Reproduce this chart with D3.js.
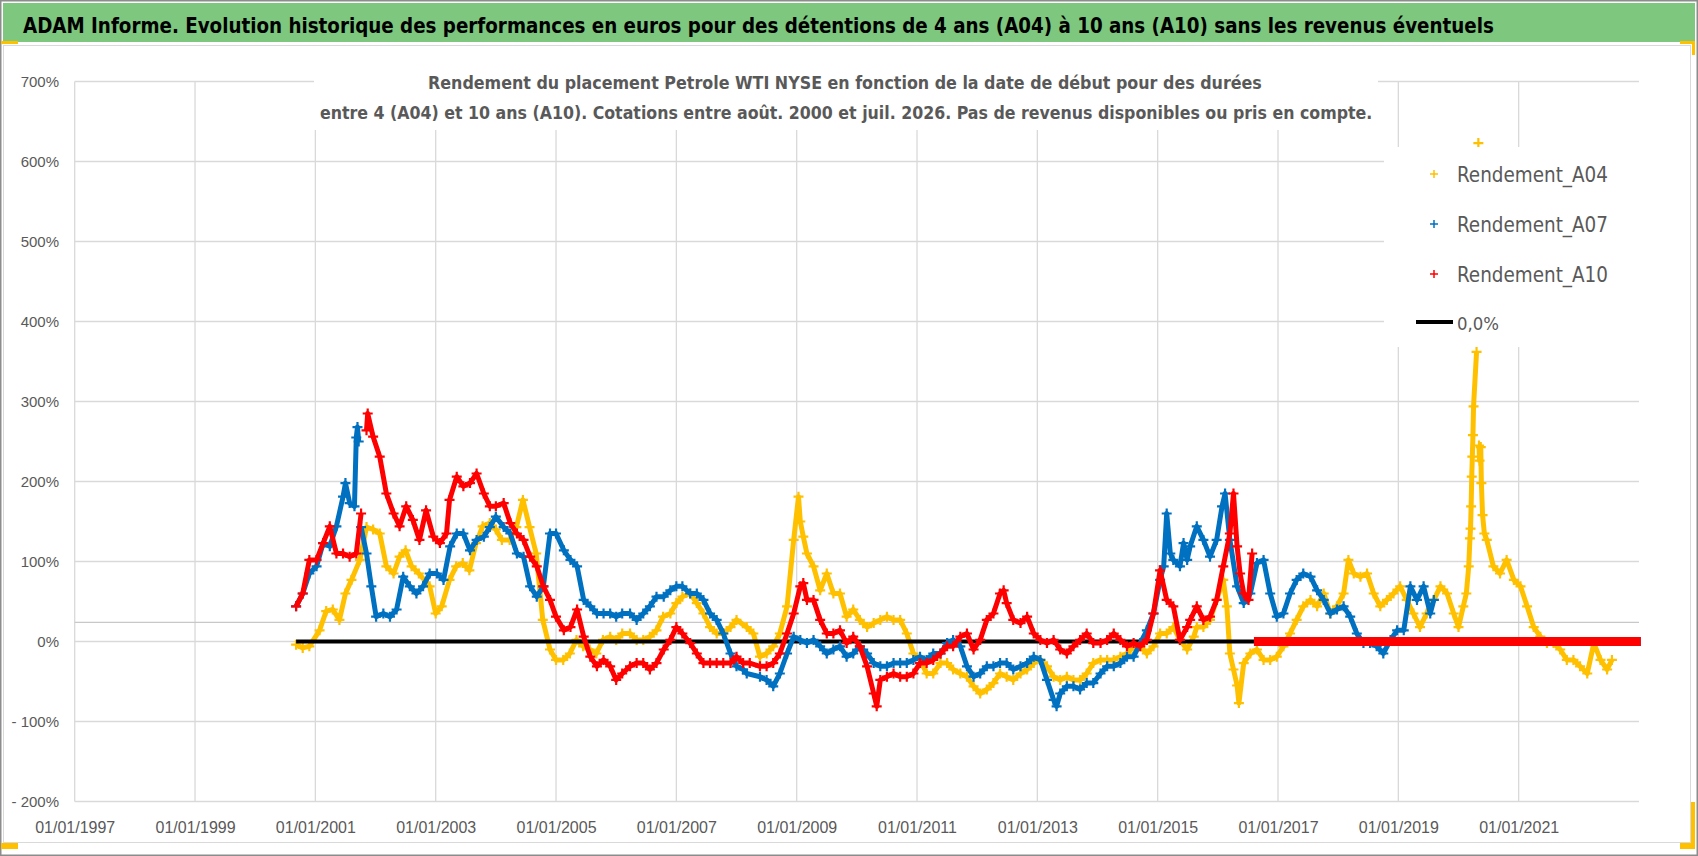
<!DOCTYPE html>
<html>
<head>
<meta charset="UTF-8">
<title>ADAM Informe - Petrole WTI NYSE</title>
<script src="https://cdn.jsdelivr.net/npm/d3@7/dist/d3.min.js"></script>
<style>
  body { margin: 0; background: #fff; }
  text { font-family: "Liberation Sans", Arial, sans-serif; }
  .narrow { font-family: "Liberation Sans Narrow", "DejaVu Sans Condensed", "Liberation Sans", sans-serif; }
</style>
</head>
<body>
<script>

// ---- data: [start date (decimal year), return %] ----
var a04 = [[2000.68,-4],[2000.79,-8],[2000.9,-6],[2001.07,14],[2001.18,38],[2001.29,40],[2001.4,27],[2001.5,60],[2001.6,77],[2001.74,102],[2001.85,143],[2001.96,140],[2002.07,135],[2002.18,94],[2002.3,85],[2002.4,106],[2002.5,114],[2002.6,94],[2002.72,85],[2002.9,69],[2003.0,35],[2003.1,44],[2003.23,77],[2003.34,94],[2003.45,98],[2003.56,89],[2003.67,123],[2003.78,144],[2003.9,148],[2004.0,140],[2004.1,127],[2004.23,127],[2004.34,143],[2004.45,177],[2004.56,143],[2004.67,110],[2004.78,27],[2004.9,-10],[2005.0,-23],[2005.12,-23],[2005.23,-15],[2005.34,2],[2005.45,-6],[2005.56,-10],[2005.67,-15],[2005.78,2],[2005.9,6],[2006.0,2],[2006.1,10],[2006.23,10],[2006.34,2],[2006.45,2],[2006.56,6],[2006.67,14],[2006.78,31],[2006.9,35],[2007.0,48],[2007.1,56],[2007.23,60],[2007.34,48],[2007.45,35],[2007.56,18],[2007.67,10],[2007.78,10],[2007.9,18],[2008.0,27],
  [2008.17,18],[2008.28,10],[2008.39,-19],[2008.5,-15],[2008.61,-6],[2008.72,10],[2008.84,44],[2008.95,127],[2009.03,181],[2009.06,150],[2009.11,131],[2009.17,110],[2009.28,94],[2009.39,64],[2009.5,85],[2009.61,60],[2009.72,60],[2009.83,31],[2009.94,40],[2010.05,27],[2010.17,18],[2010.28,23],[2010.39,27],[2010.5,31],[2010.61,27],[2010.72,27],[2010.83,10],[2010.94,-15],[2011.05,-23],[2011.16,-40],[2011.27,-40],[2011.39,-27],[2011.5,-27],[2011.6,-35],[2011.72,-40],[2011.83,-44],[2011.94,-56],[2012.05,-65],[2012.16,-60],[2012.27,-52],[2012.38,-40],[2012.49,-44],[2012.6,-48],[2012.72,-40],[2012.83,-35],[2012.94,-27],[2013.05,-23],[2013.16,-31],[2013.27,-44],[2013.38,-48],[2013.49,-44],[2013.6,-48],[2013.71,-48],[2013.82,-40],[2013.93,-27],[2014.05,-23],[2014.16,-23],[2014.27,-23],[2014.38,-19],[2014.49,-15],[2014.6,-6],[2014.71,-6],[2014.82,-15],[2014.93,-6],[2015.04,10],[2015.15,10],[2015.26,18],[2015.37,2],[2015.49,-10],
  [2015.6,6],[2015.65,18],[2015.76,18],[2015.87,27],[2015.98,52],[2016.09,77],[2016.15,44],[2016.2,-15],[2016.26,-35],[2016.32,-55],[2016.35,-77],[2016.43,-27],[2016.54,-15],[2016.65,-10],[2016.76,-23],[2016.87,-23],[2016.98,-19],[2017.09,-6],[2017.2,10],[2017.31,27],[2017.42,44],[2017.54,52],[2017.65,44],[2017.76,60],[2017.87,35],[2017.98,44],[2018.09,60],[2018.17,102],[2018.26,85],[2018.37,81],[2018.48,85],[2018.59,60],[2018.7,44],[2018.81,52],[2018.92,60],[2019.03,69],[2019.14,52],[2019.25,35],[2019.36,18],[2019.47,35],[2019.59,52],[2019.7,69],[2019.81,60],[2019.92,35],[2020.0,18],[2020.08,44],
  [2020.13,60],[2020.17,94],[2020.19,129],[2020.2,141],[2020.21,169],[2020.22,206],[2020.23,231],[2020.24,258],[2020.25,294],[2020.3,362],[2020.33,623],[2020.34,245],[2020.35,226],[2020.37,243],[2020.38,198],[2020.4,158],[2020.43,135],[2020.47,127],[2020.58,94],[2020.69,85],[2020.8,102],[2020.92,77],[2021.03,69],[2021.14,44],[2021.25,18],[2021.36,6],[2021.47,-2],[2021.58,-2],[2021.69,-10],[2021.8,-23],[2021.91,-23],[2022.02,-31],[2022.14,-40],[2022.25,-2],[2022.36,-23],[2022.47,-35],[2022.55,-23]];

var a07 = [[2000.68,44],[2000.79,60],[2000.9,85],[2001.02,94],[2001.13,123],[2001.24,119],[2001.35,144],[2001.46,181],[2001.5,198],[2001.57,173],[2001.65,169],[2001.68,255],[2001.7,268],[2001.72,250],[2001.76,143],[2001.85,110],[2001.93,69],[2002.01,31],[2002.13,35],[2002.24,31],[2002.35,40],[2002.46,81],[2002.57,69],[2002.68,60],[2002.79,69],[2002.9,85],[2003.02,85],[2003.13,77],[2003.24,119],[2003.35,135],[2003.46,135],[2003.57,114],[2003.68,127],[2003.8,131],[2003.9,143],[2004.0,156],[2004.13,143],[2004.24,135],[2004.35,110],[2004.46,106],[2004.57,69],[2004.68,56],[2004.79,69],[2004.9,135],[2005.0,135],[2005.13,114],[2005.24,102],[2005.35,94],[2005.46,52],[2005.57,44],[2005.68,35],[2005.79,35],[2005.9,35],[2006.0,31],[2006.1,35],[2006.23,35],[2006.34,27],[2006.45,35],[2006.56,44],[2006.67,56],[2006.79,56],[2006.9,64],[2007.0,69],[2007.1,69],[2007.23,60],[2007.34,60],[2007.45,52],[2007.56,35],[2007.67,27],[2007.78,10],[2007.9,-15],[2008.0,-31],
  [2008.11,-35],[2008.17,-40],[2008.39,-44],[2008.5,-48],[2008.61,-56],[2008.72,-40],[2008.84,-15],[2008.95,6],[2009.06,2],[2009.17,-2],[2009.28,2],[2009.39,-6],[2009.5,-15],[2009.61,-10],[2009.72,-6],[2009.83,-19],[2009.94,-15],[2010.05,-6],[2010.17,-15],[2010.28,-27],[2010.39,-31],[2010.5,-31],[2010.61,-27],[2010.72,-27],[2010.83,-27],[2010.94,-23],[2011.05,-19],[2011.16,-23],[2011.27,-15],[2011.39,-15],[2011.5,-2],[2011.6,2],[2011.72,-6],[2011.83,-31],[2011.94,-44],[2012.05,-40],[2012.16,-31],[2012.27,-31],[2012.38,-27],[2012.49,-27],[2012.6,-35],[2012.72,-31],[2012.83,-27],[2012.94,-19],[2013.05,-23],[2013.16,-48],[2013.27,-73],[2013.32,-81],[2013.38,-65],[2013.49,-56],[2013.6,-56],[2013.71,-60],[2013.82,-52],[2013.93,-52],[2014.05,-40],[2014.16,-31],[2014.27,-31],[2014.38,-27],[2014.49,-19],[2014.6,-19],[2014.71,-2],[2014.82,14],[2014.93,35],[2015.04,77],[2015.1,94],[2015.15,160],[2015.21,110],[2015.26,102],[2015.37,94],[2015.43,123],[2015.49,102],
  [2015.54,119],[2015.65,144],[2015.76,127],[2015.87,106],[2015.98,127],[2016.07,169],[2016.12,185],[2016.2,127],[2016.32,69],[2016.43,48],[2016.54,60],[2016.65,98],[2016.76,102],[2016.87,60],[2016.98,31],[2017.09,35],[2017.2,60],[2017.31,77],[2017.42,85],[2017.54,81],[2017.65,64],[2017.76,52],[2017.87,35],[2017.98,40],[2018.09,44],[2018.2,31],[2018.31,10],[2018.42,-2],[2018.53,-2],[2018.64,-6],[2018.75,-15],[2018.87,2],[2018.98,14],[2019.09,14],[2019.2,69],[2019.31,52],[2019.42,69],[2019.53,35],[2019.59,52]];

var a10 = [[2000.68,44],[2000.79,60],[2000.9,102],[2001.02,102],[2001.13,123],[2001.24,144],[2001.35,110],[2001.46,110],[2001.57,106],[2001.68,110],[2001.76,160],[2001.85,264],[2001.87,285],[2001.96,256],[2002.07,231],[2002.18,185],[2002.3,160],[2002.4,144],[2002.51,169],[2002.62,152],[2002.73,127],[2002.84,164],[2002.96,131],[2003.07,123],[2003.18,135],[2003.23,177],[2003.35,206],[2003.46,194],[2003.57,198],[2003.68,210],[2003.8,185],[2003.9,169],[2004.0,169],[2004.13,173],[2004.24,148],[2004.35,135],[2004.46,127],[2004.57,106],[2004.68,94],[2004.79,69],[2004.9,52],[2005.0,31],[2005.13,14],[2005.24,18],[2005.35,40],[2005.46,6],[2005.57,-19],[2005.68,-31],[2005.79,-23],[2005.9,-31],[2006.0,-48],[2006.1,-40],[2006.23,-31],[2006.34,-27],[2006.45,-27],[2006.56,-35],[2006.67,-27],[2006.79,-10],[2006.9,2],[2007.0,18],[2007.1,10],[2007.23,-2],[2007.34,-15],[2007.45,-27],[2007.56,-27],[2007.67,-27],[2007.78,-27],[2007.9,-27],[2008.0,-19],
  [2008.11,-27],[2008.22,-27],[2008.39,-31],[2008.5,-31],[2008.61,-27],[2008.72,-15],[2008.84,10],[2008.95,35],[2009.06,69],[2009.11,73],[2009.17,52],[2009.28,52],[2009.39,27],[2009.5,10],[2009.61,10],[2009.72,14],[2009.83,-2],[2009.94,6],[2010.05,-6],[2010.17,-31],[2010.28,-65],[2010.33,-81],[2010.39,-48],[2010.5,-44],[2010.61,-40],[2010.72,-44],[2010.83,-44],[2010.94,-40],[2011.05,-27],[2011.16,-27],[2011.27,-23],[2011.39,-15],[2011.5,-6],[2011.6,-6],[2011.72,6],[2011.83,10],[2011.94,-10],[2012.05,2],[2012.16,27],[2012.27,35],[2012.38,60],[2012.44,64],[2012.49,48],[2012.6,27],[2012.72,23],[2012.83,31],[2012.94,10],[2013.05,2],[2013.16,-2],[2013.27,2],[2013.38,-10],[2013.49,-15],[2013.6,-6],[2013.71,2],[2013.82,10],[2013.93,-2],[2014.05,-2],[2014.16,2],[2014.27,10],[2014.38,2],[2014.49,-6],[2014.6,-2],[2014.71,-6],[2014.82,2],[2014.93,35],[2015.04,89],[2015.15,52],[2015.26,44],[2015.37,2],[2015.49,18],
  [2015.54,27],[2015.65,44],[2015.76,27],[2015.87,31],[2015.98,52],[2016.09,94],[2016.2,135],[2016.26,185],[2016.32,119],[2016.37,85],[2016.43,60],[2016.51,52],[2016.57,110]];

// after the last computable date each series is reported as 0 until the end of quotes
var a04Tail = [[2022.58,0],[2023.03,0]];
var a07Tail = [[2019.62,0],[2023.03,0]];
var a10Tail = [[2016.6,0],[2023.03,0]];
var zeroLine = [[2000.68,0],[2023.0,0]];

var xTicks = [1997,1999,2001,2003,2005,2007,2009,2011,2013,2015,2017,2019,2021];
var yTicks = [-200,-100,0,100,200,300,400,500,600,700];
var refLevel = 24; // stray horizontal rule drawn in the original

var series = [
  {name:"Rendement_A04", color:"#FFC000", data:a04, tail:a04Tail},
  {name:"Rendement_A07", color:"#0070C0", data:a07, tail:a07Tail},
  {name:"Rendement_A10", color:"#FF0000", data:a10, tail:a10Tail}
];

var W = 1698, H = 856;
var svg = d3.select("body").append("svg")
    .attr("width", W)
    .attr("height", H);

// shrink/grow a text's font so that its natural width is the wanted one
function fitText(t, width) {
  var fs = parseFloat(t.style("font-size"));
  var w = t.node().getComputedTextLength();
  if (w > 0) t.style("font-size", (fs * width / w).toFixed(2) + "px");
}

// frame, title bar and the yellow corner marks
svg.append("rect").attr("x",0.75).attr("y",0.75).attr("width",W-1.5).attr("height",H-1.5)
    .attr("fill","#fff").attr("stroke","#8c8c8c").attr("stroke-width",1.5);
svg.append("rect").attr("x",3).attr("y",3).attr("width",1692).attr("height",39).attr("fill","#7DC77F");
svg.append("rect").attr("x",3.5).attr("y",45.5).attr("width",1687).attr("height",797)
    .attr("fill","none").attr("stroke","#d9d9d9");
var yel = "#FFC000";
svg.append("rect").attr("x",1).attr("y",41).attr("width",17).attr("height",3).attr("fill",yel);
svg.append("rect").attr("x",1680).attr("y",41).attr("width",15).attr("height",3).attr("fill",yel);
svg.append("rect").attr("x",1692).attr("y",41).attr("width",3).attr("height",14).attr("fill",yel);
svg.append("rect").attr("x",1).attr("y",843).attr("width",17).attr("height",6).attr("fill",yel);
svg.append("rect").attr("x",1691).attr("y",802).attr("width",4).attr("height",47).attr("fill",yel);
svg.append("rect").attr("x",1680).attr("y",843).attr("width",15).attr("height",6).attr("fill",yel);

var title = svg.append("text").attr("class","narrow")
    .attr("x",23).attr("y",33)
    .style("font-size","25px").style("font-weight","bold").attr("fill","#000")
    .text("ADAM Informe. Evolution historique des performances en euros pour des détentions de 4 ans (A04) à 10 ans (A10) sans les revenus éventuels");
fitText(title, 1472);

// scales
var x = d3.scaleLinear().domain([1997, 2023]).range([74.7, 1639]);
var y = d3.scaleLinear().domain([-200, 700]).range([801.5, 81.5]);

var grid = svg.append("g");
grid.selectAll("line.h").data(yTicks).enter().append("line")
    .attr("x1", x(1997)).attr("x2", x(2023))
    .attr("y1", function(d){return y(d);}).attr("y2", function(d){return y(d);})
    .attr("stroke","#d9d9d9").attr("stroke-width",1.3);
grid.selectAll("line.v").data(xTicks).enter().append("line")
    .attr("x1", function(d){return x(d);}).attr("x2", function(d){return x(d);})
    .attr("y1", y(700)).attr("y2", y(-200))
    .attr("stroke","#d9d9d9").attr("stroke-width",1.3);
grid.append("line")
    .attr("x1", x(1997)).attr("x2", x(2023))
    .attr("y1", y(refLevel)).attr("y2", y(refLevel))
    .attr("stroke","#c8c8c8").attr("stroke-width",1.3);

// axes (labels only, Excel style)
var yAxis = d3.axisLeft(y).tickValues(yTicks).tickSize(0).tickPadding(0)
    .tickFormat(function(d){ return d < 0 ? "- " + Math.abs(d) + "%" : d + "%"; });
var gy = svg.append("g").attr("transform","translate(59,0)").call(yAxis);
gy.select(".domain").remove();
gy.selectAll("text").style("font-size","15px").attr("fill","#595959")
    .style("font-family","'Liberation Sans', Arial, sans-serif");

var xAxis = d3.axisBottom(x).tickValues(xTicks).tickSize(0).tickPadding(0)
    .tickFormat(function(d){ return "01/01/" + d; });
var gx = svg.append("g").attr("transform","translate(0,822)").call(xAxis);
gx.select(".domain").remove();
gx.selectAll("text").style("font-size","16px").attr("fill","#595959")
    .style("font-family","'Liberation Sans', Arial, sans-serif");

// markers: the original has daily quotes packed into a band, so readings that
// follow each other are joined; only the big isolated jumps stay lone "+" marks
var plus = "M-5,0H5M0,-5V5";
var line = d3.line().x(function(d){return x(d[0]);}).y(function(d){return y(d[1]);});

function runs(data) {
  var out = [], cur = [data[0]];
  for (var i = 1; i < data.length; i++) {
    if (Math.abs(y(data[i][1]) - y(data[i-1][1])) > 80) { out.push(cur); cur = []; }
    cur.push(data[i]);
  }
  out.push(cur);
  return out.filter(function(r){ return r.length > 1; });
}

function drawSeries(s) {
  var g = svg.append("g");
  g.append("path").datum(s.tail).attr("d", line)
      .attr("stroke", s.color).attr("stroke-width", 9).attr("fill","none");
  g.selectAll("path.run").data(runs(s.data)).enter().append("path")
      .attr("class","run").attr("d", line)
      .attr("stroke", s.color).attr("stroke-width", 5)
      .attr("stroke-linejoin","round").attr("fill","none");
  g.selectAll("path.pt").data(s.data).enter().append("path")
      .attr("class","pt")
      .attr("d", plus)
      .attr("transform", function(d){ return "translate(" + x(d[0]) + "," + y(d[1]) + ")"; })
      .attr("stroke", s.color).attr("stroke-width", 2.2).attr("fill","none");
}

drawSeries(series[0]);
svg.append("path").datum(zeroLine).attr("d", line)
    .attr("stroke","#000").attr("stroke-width",4).attr("fill","none");
drawSeries(series[1]);
drawSeries(series[2]);

// chart title box
svg.append("rect").attr("x",314).attr("y",70).attr("width",1064).attr("height",60).attr("fill","#fff");
var sub = svg.append("g").attr("fill","#595959");
var s1 = sub.append("text").attr("class","narrow").attr("x",428).attr("y",89)
    .style("font-size","20px").style("font-weight","bold")
    .text("Rendement du placement Petrole WTI NYSE en fonction de la date de début pour des durées");
fitText(s1, 834);
var s2 = sub.append("text").attr("class","narrow").attr("x",320).attr("y",119)
    .style("font-size","20px").style("font-weight","bold")
    .text("entre 4 (A04) et 10 ans (A10).  Cotations entre août. 2000 et juil. 2026. Pas de revenus disponibles ou pris en compte.");
fitText(s2, 1053);

// legend
svg.append("rect").attr("x",1384).attr("y",147).attr("width",256).attr("height",200).attr("fill","#fff");
var leg = svg.append("g");
series.forEach(function(s, i){
  var cy = 174 + i*50;
  leg.append("path").attr("d","M-4,0H4M0,-4V4")
      .attr("transform","translate(1434," + cy + ")")
      .attr("stroke", s.color).attr("stroke-width",1.5).attr("fill","none");
  var t = leg.append("text").attr("class","narrow").attr("x",1457).attr("y",cy+8)
      .style("font-size","22px").attr("fill","#595959").text(s.name);
  fitText(t, 151);
});
leg.append("line").attr("x1",1416).attr("x2",1453).attr("y1",322).attr("y2",322)
    .attr("stroke","#000").attr("stroke-width",4);
var z = leg.append("text").attr("class","narrow").attr("x",1457).attr("y",330)
    .style("font-size","22px").attr("fill","#595959").text("0,0%");
fitText(z, 42);

</script>
</body>
</html>
